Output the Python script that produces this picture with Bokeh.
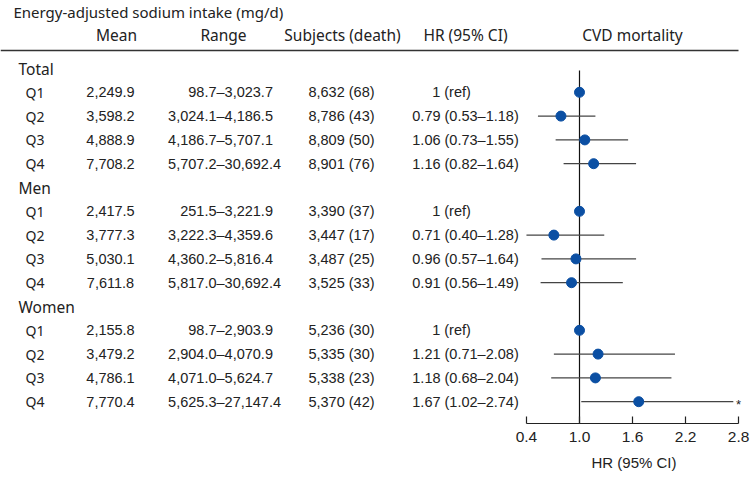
from bokeh.plotting import figure
from bokeh.models import Range1d, LinearAxis, FixedTicker, PrintfTickFormatter, Title
from bokeh.core.properties import value
from bokeh.embed import file_html
from bokeh.resources import INLINE

# ---------------- data ----------------
group_names = ["Total", "Men", "Women"]
quartile_labels = ["Q1", "Q2", "Q3", "Q4"]

mean_total = [2249.9, 3598.2, 4888.9, 7708.2]
range_low_total = [98.7, 3024.1, 4186.7, 5707.2]
range_high_total = [3023.7, 4186.5, 5707.1, 30692.4]
subjects_total = [8632, 8786, 8809, 8901]
deaths_total = [68, 43, 50, 76]
hr_total = [1.0, 0.79, 1.06, 1.16]
ci_low_total = [None, 0.53, 0.73, 0.82]
ci_high_total = [None, 1.18, 1.55, 1.64]

mean_men = [2417.5, 3777.3, 5030.1, 7611.8]
range_low_men = [251.5, 3222.3, 4360.2, 5817.0]
range_high_men = [3221.9, 4359.6, 5816.4, 30692.4]
subjects_men = [3390, 3447, 3487, 3525]
deaths_men = [37, 17, 25, 33]
hr_men = [1.0, 0.71, 0.96, 0.91]
ci_low_men = [None, 0.40, 0.57, 0.56]
ci_high_men = [None, 1.28, 1.64, 1.49]

mean_women = [2155.8, 3479.2, 4786.1, 7770.4]
range_low_women = [98.7, 2904.0, 4071.0, 5625.3]
range_high_women = [2903.9, 4070.9, 5624.7, 27147.4]
subjects_women = [5236, 5335, 5338, 5370]
deaths_women = [30, 30, 23, 42]
hr_women = [1.0, 1.21, 1.18, 1.67]
ci_low_women = [None, 0.71, 0.68, 1.02]
ci_high_women = [None, 2.08, 2.04, 2.74]
significant_women = [False, False, False, True]

hr_ticks = [0.4, 1.0, 1.6, 2.2, 2.8]

title_text = "Energy-adjusted sodium intake (mg/d)"
col_headers = ["Mean", "Range", "Subjects (death)", "HR (95% CI)", "CVD mortality"]
x_label = "HR (95% CI)"

groups = [
    (mean_total, range_low_total, range_high_total, subjects_total, deaths_total,
     hr_total, ci_low_total, ci_high_total, [False] * 4),
    (mean_men, range_low_men, range_high_men, subjects_men, deaths_men,
     hr_men, ci_low_men, ci_high_men, [False] * 4),
    (mean_women, range_low_women, range_high_women, subjects_women, deaths_women,
     hr_women, ci_low_women, ci_high_women, significant_women),
]

# ---------------- layout (page pixels; the page template has no margin) ----------------
W, H = 750, 479
FRAME_TOP, FRAME_BOTTOM = 0, 423
ROW0_Y, ROW_PITCH = 68, 23.8
HR1_X, HR_PX = 579, 88.4

def row_of(page_y):
    return (page_y - ROW0_Y) / ROW_PITCH

GROUP_X = 18
Q_X = 25
MEAN_X = 110
DASH_X = 216
SUBJ_X = 341
HR_X = 465
REF_X = 451
STAR_X = 738
HEAD_X = [116, 223, 342, 465, 632]
TITLE_X = 13

FONT_HEAD = value("Noto Sans")
FONT_BODY = value("Liberation Sans")
FS_TITLE = "15px"
FS_HEAD = "15.5px"
FS_Q = "14px"
FS = "14.5px"

p = figure(width=W, height=H, output_backend="svg", toolbar_location=None,
           x_axis_type=None, y_axis_type=None,
           x_range=Range1d(0, W),
           y_range=Range1d(row_of(FRAME_BOTTOM), row_of(FRAME_TOP)),
           min_border_left=0, min_border_right=0, min_border_top=0,
           min_border_bottom=H - FRAME_BOTTOM)
p.outline_line_color = None
p.grid.visible = False
p.background_fill_color = "white"
p.border_fill_color = "white"

p.extra_x_ranges = {"hr": Range1d(1 + (0 - HR1_X) / HR_PX, 1 + (W - HR1_X) / HR_PX)}

# ----- build table rows -----
grp_y, grp_t = [], []
q_y, q_t = [], []
mean_y, mean_t = [], []
rl_t, rh_t, r_y = [], [], []
sub_t, sub_y = [], []
hr_t, hr_y, ref_t, ref_y = [], [], [], []
pt_x, pt_y = [], []
ci_x0, ci_x1, ci_y = [], [], []
star_y = []

row = 0
for gname, g in zip(group_names, groups):
    mean, rlo, rhi, subj, dth, hr, cil, cih, sig = g
    grp_y.append(row); grp_t.append(gname)
    row += 1
    for k in range(4):
        q_y.append(row); q_t.append(quartile_labels[k])
        mean_y.append(row); mean_t.append(f"{mean[k]:,.1f}")
        r_y.append(row); rl_t.append(f"{rlo[k]:,.1f}"); rh_t.append(f"\u2013{rhi[k]:,.1f}")
        sub_y.append(row); sub_t.append(f"{subj[k]:,} ({dth[k]})")
        pt_x.append(hr[k]); pt_y.append(row)
        if cil[k] is None:
            ref_y.append(row); ref_t.append("1 (ref)")
        else:
            hr_y.append(row); hr_t.append(f"{hr[k]:.2f} ({cil[k]:.2f}\u2013{cih[k]:.2f})")
            ci_x0.append(cil[k]); ci_x1.append(cih[k]); ci_y.append(row)
        if sig[k]:
            star_y.append(row + 0.1)
        row += 1

txt = dict(text_color="#222222", text_baseline="middle")

# header title and column headers
p.text(x=[TITLE_X], y=[row_of(11)], text=[title_text], text_font=FONT_HEAD,
       text_font_size=FS_TITLE, text_align="left", **txt)
p.text(x=HEAD_X, y=[row_of(34)] * len(HEAD_X), text=col_headers, text_font=FONT_HEAD,
       text_font_size=FS_HEAD, text_align="center", **txt)
# header rule
p.segment(x0=[0], y0=[row_of(50)], x1=[738], y1=[row_of(50)], line_color="#333333", line_width=1.3)

# row labels
p.text(x=[GROUP_X] * len(grp_y), y=grp_y, text=grp_t, text_font=FONT_HEAD,
       text_font_size=FS_HEAD, text_align="left", **txt)
p.text(x=[Q_X] * len(q_y), y=q_y, text=q_t, text_font=FONT_HEAD,
       text_font_size=FS_Q, text_align="left", **txt)
# cells
p.text(x=[MEAN_X] * len(mean_y), y=mean_y, text=mean_t, text_font=FONT_BODY,
       text_font_size=FS, text_align="center", **txt)
p.text(x=[DASH_X] * len(r_y), y=r_y, text=rl_t, text_font=FONT_BODY,
       text_font_size=FS, text_align="right", **txt)
p.text(x=[DASH_X] * len(r_y), y=r_y, text=rh_t, text_font=FONT_BODY,
       text_font_size=FS, text_align="left", **txt)
p.text(x=[SUBJ_X] * len(sub_y), y=sub_y, text=sub_t, text_font=FONT_BODY,
       text_font_size=FS, text_align="center", **txt)
p.text(x=[HR_X] * len(hr_y), y=hr_y, text=hr_t, text_font=FONT_BODY,
       text_font_size=FS, text_align="center", **txt)
p.text(x=[REF_X] * len(ref_y), y=ref_y, text=ref_t, text_font=FONT_BODY,
       text_font_size=FS, text_align="center", **txt)
p.text(x=[STAR_X] * len(star_y), y=star_y, text=["*"] * len(star_y), text_font=FONT_BODY,
       text_font_size="13px", text_align="center", **txt)

# forest plot
y_bottom = row_of(FRAME_BOTTOM)
p.segment(x0=[1.0], y0=[row_of(70)], x1=[1.0], y1=[y_bottom], x_range_name="hr",
          line_color="#111111", line_width=1.2)
p.segment(x0=ci_x0, y0=ci_y, x1=ci_x1, y1=ci_y, x_range_name="hr",
          line_color="#444444", line_width=1.3)
p.scatter(x=pt_x, y=pt_y, x_range_name="hr", size=10, marker="circle",
          fill_color="#0b4fa3", line_color="#0b4fa3")

# axis
ax = LinearAxis(x_range_name="hr", bounds=(hr_ticks[0], hr_ticks[-1]),
                ticker=FixedTicker(ticks=hr_ticks),
                formatter=PrintfTickFormatter(format="%.1f"))
ax.axis_line_color = "#222222"
ax.axis_line_width = 1.2
ax.major_tick_in = 7
ax.major_tick_out = 0
ax.minor_tick_in = 0
ax.minor_tick_out = 0
ax.major_tick_line_color = "#222222"
ax.major_tick_line_width = 1.2
ax.major_label_text_font = "Liberation Sans"
ax.major_label_text_font_size = "15.5px"
ax.major_label_text_color = "#222222"
ax.major_label_standoff = 8
p.add_layout(ax, "below")

xt = Title(text=x_label, align="left", offset=591, standoff=14,
           text_font="Liberation Sans", text_font_size="15px",
           text_font_style="normal", text_color="#222222")
p.add_layout(xt, "below")

open("out.html", "w").write(file_html(p, INLINE))
